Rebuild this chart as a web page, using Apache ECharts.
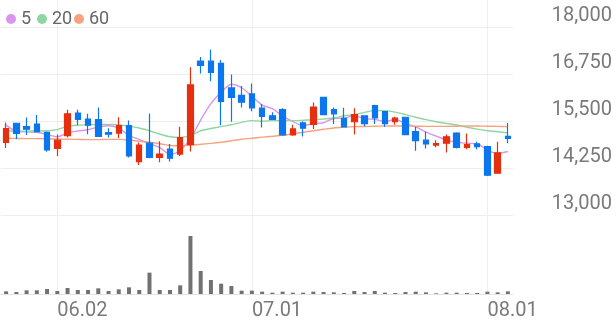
<!DOCTYPE html>
<html><head><meta charset="utf-8">
<script src="https://cdn.jsdelivr.net/npm/echarts@6/dist/echarts.min.js"></script>
<style>html,body{margin:0;padding:0;background:#fff}#c{width:616px;height:321px}</style>
</head><body><div id="c"></div>
<script>
const dates = ['05.26','05.27','05.28','05.29','05.30',
  '06.02','06.04','06.05','06.09','06.10','06.11','06.12','06.13','06.16','06.17','06.18','06.19','06.20','06.23','06.24','06.25','06.26','06.27','06.30',
  '07.01','07.02','07.03','07.04','07.07','07.08','07.09','07.10','07.11','07.14','07.15','07.16','07.17','07.18','07.21','07.22','07.23','07.24','07.25','07.28','07.29','07.30','07.31',
  '08.01','08.04','08.05'];
const openP  = [14930,15440,15350,15420,15200,14770,15110,15710,15550,15540,15190,15180,15380,14420,14910,14530,14750,14620,14870,17090,17090,17030,16380,16180,16220,15840,15640,15800,15130,15450,15410,16130,15800,15570,15480,15640,15910,15750,15480,15600,15220,14990,14860,14910,15180,14800,14890,14820,14110,15090];
const closeP = [15300,15170,15280,15220,14730,14990,15690,15540,15390,15090,15150,15380,14570,14860,14530,14620,14510,15060,16460,16980,16790,16020,16130,16000,15850,15620,15540,15130,15290,15310,15870,15670,15690,15340,15670,15430,15580,15430,15580,15140,14980,14890,14900,15080,14800,14870,14820,14060,14650,15040];
const lowP   = [14780,15020,15130,15200,14680,14570,15060,15390,15150,15080,15060,15050,14530,14330,14510,14400,14420,14570,14690,16760,16560,15390,15480,15860,15760,15330,15530,15110,15110,15090,15290,15660,15420,15330,15140,15360,15420,15350,15400,15130,14710,14770,14800,14660,14770,14750,14750,14040,14100,14910];
const highP  = [15460,15450,15590,15660,15220,15140,15800,15800,15690,15860,15310,15600,15510,14930,15700,14960,14890,15350,16930,17200,17400,17120,16740,16430,16500,15950,15730,15840,15400,15490,15990,16140,15860,15850,15840,15650,15930,15760,15610,15610,15350,15220,14990,15140,15200,15170,14950,14840,14950,15450];
const ma5  = [15390,15230,15210,15200,15140,15078,15182,15234,15268,15340,15372,15310,15116,15010,14898,14792,14618,14716,15036,15526,15960,16262,16476,16384,16158,15924,15828,15628,15486,15378,15428,15454,15566,15576,15648,15560,15542,15490,15538,15432,15342,15204,15098,14998,14930,14908,14894,14726,14640,14688];
const ma20 = [15240,15230,15230,15235,15240,15270,15360,15390,15400,15410,15410,15400,15360,15315,15240,15155,15080,15065,15110,15240,15300,15350,15400,15465,15510,15495,15510,15510,15510,15520,15535,15555,15580,15640,15670,15730,15775,15775,15735,15670,15600,15535,15480,15435,15395,15335,15285,15240,15215,15180];
const ma60 = [15040,15035,15030,15030,15025,15020,15015,15010,15005,15005,15010,15010,14995,14960,14935,14895,14850,14840,14860,14880,14905,14935,14975,15015,15040,15070,15095,15120,15160,15200,15240,15280,15315,15335,15350,15355,15360,15365,15367,15367,15362,15357,15357,15357,15362,15367,15367,15362,15357,15350];
const volume = [80000,60000,110000,110000,150000,90000,180000,120000,120000,170000,90000,140000,200000,120000,640000,120000,120000,260000,1740000,690000,420000,310000,240000,100000,100000,
  70000,40000,70000,40000,40000,70000,60000,50000,30000,90000,60000,90000,40000,30000,60000,70000,50000,20000,40000,40000,30000,30000,70000,50000,80000];
const tickLabels = ['06.02','07.01','08.01'];
const maNames = ['5','20','60'];

const RED = '#e62f0e', BLUE = '#0b76ee';
const MA_COLORS = ['#d995ee','#8fd6a0','#f6a27f'];
const GRID_C = '#efefef';
const TXT = '#7a7a7a';
const FONT = 'Roboto';

const candles = dates.map((d, i) => [openP[i], closeP[i], lowP[i], highP[i]]);
const showTick = (idx, val) => tickLabels.indexOf(val) >= 0;

const chart = echarts.init(document.getElementById('c'), null, {renderer: 'canvas'});
const legendBase = {
  top: 5, icon: 'circle', itemWidth: 10, itemHeight: 10, selectedMode: false, itemGap: 0,
  textStyle: {fontSize: 18, color: '#666', fontFamily: FONT}
};
chart.setOption({
  animation: false,
  backgroundColor: '#fff',
  legend: [
    Object.assign({data: [maNames[0]], left: 1}, legendBase),
    Object.assign({data: [maNames[1]], left: 32}, legendBase),
    Object.assign({data: [maNames[2]], left: 69}, legendBase)
  ],
  grid: [
    {left: 1, right: 103, top: 27, height: 188},
    {left: 1, right: 103, top: 215, height: 79},
    {left: 6.12, right: 108.12, top: 0, height: 294}
  ],
  xAxis: [
    {type: 'category', gridIndex: 0, data: dates, boundaryGap: true, show: false},
    {type: 'category', gridIndex: 1, data: dates, boundaryGap: true,
     axisLine: {show: true, lineStyle: {color: '#e3e3e3', width: 1}},
     axisTick: {show: false}, axisLabel: {show: false}, splitLine: {show: false}},
    {type: 'category', gridIndex: 2, data: dates, boundaryGap: false,
     axisLine: {show: false}, axisTick: {show: false, interval: showTick},
     splitLine: {show: true, interval: showTick, lineStyle: {color: GRID_C, width: 1}},
     axisLabel: {show: true, interval: showTick, align: 'left', margin: 8,
       color: TXT, fontSize: 20, fontFamily: FONT}}
  ],
  yAxis: [
    {type: 'value', gridIndex: 0, position: 'right', min: 13000, max: 18000, interval: 1250,
     axisLine: {show: false}, axisTick: {show: false},
     splitLine: {show: true, lineStyle: {color: GRID_C, width: 1}},
     axisLabel: {margin: 99, align: 'right', verticalAlign: 'bottom', padding: [0, 0, 1, 0],
       color: TXT, fontSize: 20, fontFamily: FONT,
       formatter: v => v.toLocaleString('en-US')}},
    {type: 'value', gridIndex: 1, min: 0, max: 2370000, show: false},
    {type: 'value', gridIndex: 2, min: 0, max: 1, show: false}
  ],
  series: [
    {type: 'candlestick', name: 'price', xAxisIndex: 0, yAxisIndex: 0, data: candles, barWidth: 6, z: 5,
     itemStyle: {color: RED, color0: BLUE, borderColor: RED, borderColor0: BLUE, borderWidth: 1.2}},
    {type: 'line', name: maNames[0], xAxisIndex: 0, yAxisIndex: 0, data: ma5, symbol: 'none', smooth: 0.3, z: 3,
     itemStyle: {color: MA_COLORS[0]}, lineStyle: {color: MA_COLORS[0], width: 1.4}},
    {type: 'line', name: maNames[1], xAxisIndex: 0, yAxisIndex: 0, data: ma20, symbol: 'none', smooth: 0.3, z: 3,
     itemStyle: {color: MA_COLORS[1]}, lineStyle: {color: MA_COLORS[1], width: 1.4}},
    {type: 'line', name: maNames[2], xAxisIndex: 0, yAxisIndex: 0, data: ma60, symbol: 'none', smooth: 0.3, z: 3,
     itemStyle: {color: MA_COLORS[2]}, lineStyle: {color: MA_COLORS[2], width: 1.4}},
    {type: 'bar', name: 'volume', xAxisIndex: 1, yAxisIndex: 1, data: volume, barWidth: 4,
     itemStyle: {color: '#717171'}},
    {type: 'line', name: 'overlay', xAxisIndex: 2, yAxisIndex: 2, data: [], silent: true}
  ]
});
</script></body></html>
